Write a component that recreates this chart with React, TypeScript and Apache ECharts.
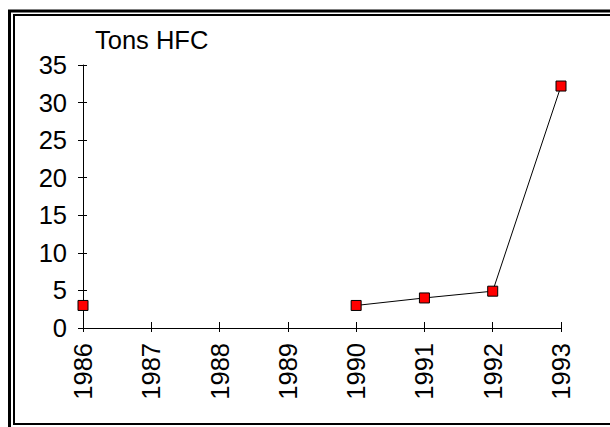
import React, { useEffect, useRef } from "react";
import * as echarts from "echarts";

const years = ["1986", "1987", "1988", "1989", "1990", "1991", "1992", "1993"];
const tonsHFC: (number | null)[] = [3, null, null, null, 3, 4, 4.9, 32.2];
const yTicks = { min: 0, max: 35, interval: 5 };
const titleText = "Tons HFC";

const FONT = "'Liberation Sans', Arial, sans-serif";

export default function App() {
  const ref = useRef<HTMLDivElement>(null);
  useEffect(() => {
    if (!ref.current) return;
    const chart = echarts.init(ref.current, undefined, { renderer: "svg" });
    chart.setOption({
      animation: false,
      backgroundColor: "#ffffff",
      textStyle: { fontFamily: FONT, color: "#000" },
      graphic: [
        {
          type: "rect",
          shape: { x: 9.5, y: 11, width: 620, height: 430 },
          style: { fill: "none", stroke: "#000", lineWidth: 3 },
          z: 0,
        },
        {
          type: "rect",
          shape: { x: 14, y: 15, width: 620, height: 409 },
          style: { fill: "none", stroke: "#000", lineWidth: 2 },
          z: 0,
        },
        {
          type: "text",
          left: 95,
          top: 27,
          style: { text: titleText, fontSize: 25.5, fontFamily: FONT, fill: "#000" },
        },
      ],
      grid: { left: 83, right: 49, top: 65, bottom: 99, containLabel: false },
      xAxis: [
        {
          type: "category",
          data: years,
          boundaryGap: false,
          axisLine: { lineStyle: { color: "#000", width: 1 } },
          axisTick: { show: true, length: 4, lineStyle: { color: "#000" }, alignWithLabel: true },
          axisLabel: { rotate: 90, fontSize: 25.5, color: "#000", margin: 15, fontFamily: FONT, interval: 0 },
          splitLine: { show: false },
        },
        {
          type: "category",
          data: years,
          boundaryGap: false,
          position: "bottom",
          axisLine: { show: false },
          axisTick: { show: true, inside: true, length: 6, lineStyle: { color: "#000" } },
          axisLabel: { show: false },
          splitLine: { show: false },
        },
      ],
      yAxis: [
        {
          type: "value",
          min: yTicks.min,
          max: yTicks.max,
          interval: yTicks.interval,
          axisLine: { show: true, lineStyle: { color: "#000", width: 1 } },
          axisTick: { show: true, length: 5, lineStyle: { color: "#000" } },
          axisLabel: { fontSize: 25.5, color: "#000", margin: 16, fontFamily: FONT },
          splitLine: { show: false },
        },
        {
          type: "value",
          position: "left",
          min: yTicks.min,
          max: yTicks.max,
          interval: yTicks.interval,
          axisLine: { show: false },
          axisTick: { show: true, inside: true, length: 4, lineStyle: { color: "#000" } },
          axisLabel: { show: false },
          splitLine: { show: false },
        },
      ],
      series: [
        {
          type: "line",
          data: tonsHFC,
          connectNulls: false,
          symbol: "rect",
          symbolSize: 10,
          showSymbol: true,
          showAllSymbol: true,
          lineStyle: { color: "#000", width: 1 },
          itemStyle: { color: "#ff0000", borderColor: "#000", borderWidth: 1 },
        },
      ],
    });
    return () => chart.dispose();
  }, []);
  return (
    <div
      ref={ref}
      style={{ position: "fixed", left: 0, top: 0, width: 610, height: 427 }}
    />
  );
}
